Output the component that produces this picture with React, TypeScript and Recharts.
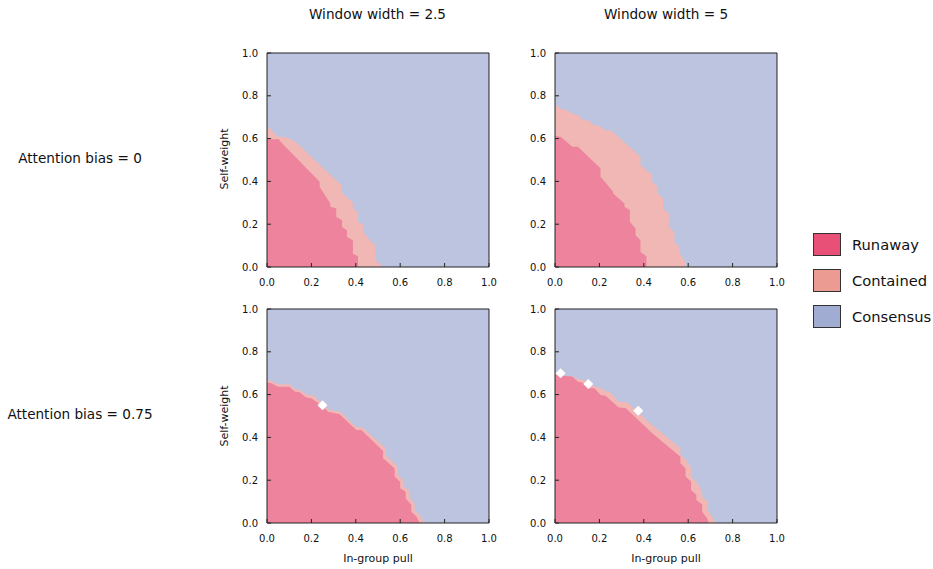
import React from "react";
import { ComposedChart, Area, Scatter, XAxis, YAxis, CartesianGrid } from "recharts";

// regime boundaries: [in-group pull, self-weight]
const runawayTopLeft = [
  [0, 0.597], [0.054, 0.597], [0.06, 0.586], [0.237, 0.398], [0.237, 0.375], [0.285, 0.297],
  [0.285, 0.281], [0.312, 0.273], [0.312, 0.234], [0.338, 0.219], [0.338, 0.1875], [0.36, 0.172],
  [0.36, 0.14], [0.387, 0.125], [0.387, 0.0625], [0.41, 0.05], [0.41, 0],
];
const containedTopLeft = [
  [0, 0.659], [0.05, 0.609], [0.075, 0.609], [0.125, 0.589], [0.338, 0.38], [0.338, 0.347],
  [0.387, 0.3], [0.387, 0.273], [0.41, 0.258], [0.41, 0.211], [0.435, 0.195], [0.435, 0.164],
  [0.462, 0.125], [0.488, 0.102], [0.488, 0.031], [0.515, 0.008], [0.515, 0],
];
const runawayTopRight = [
  [0, 0.6125], [0.025, 0.609], [0.078, 0.5625], [0.103, 0.5625], [0.205, 0.461], [0.205, 0.422],
  [0.262, 0.352], [0.262, 0.344], [0.313, 0.297], [0.313, 0.281], [0.337, 0.266], [0.337, 0.211],
  [0.363, 0.18], [0.363, 0.148], [0.385, 0.125], [0.385, 0.07], [0.412, 0.05], [0.412, 0],
];
const containedTopRight = [
  [0, 0.7625], [0.025, 0.739], [0.051, 0.734], [0.078, 0.716], [0.103, 0.711], [0.127, 0.6875],
  [0.153, 0.684], [0.175, 0.664], [0.202, 0.659], [0.228, 0.6375], [0.253, 0.6375], [0.385, 0.516],
  [0.385, 0.477], [0.438, 0.43], [0.438, 0.398], [0.463, 0.375], [0.463, 0.344], [0.487, 0.32],
  [0.487, 0.273], [0.513, 0.25], [0.513, 0.1875], [0.538, 0.164], [0.538, 0.117], [0.562, 0.094],
  [0.562, 0.0625], [0.588, 0.023], [0.588, 0],
];
const runawayBottomLeft = [
  [0, 0.657], [0.02, 0.653], [0.05, 0.637], [0.1, 0.637], [0.125, 0.614], [0.147, 0.611],
  [0.177, 0.586], [0.2, 0.583], [0.252, 0.544], [0.275, 0.52], [0.327, 0.508], [0.402, 0.435],
  [0.425, 0.435], [0.523, 0.336], [0.523, 0.302], [0.575, 0.255], [0.575, 0.216], [0.6, 0.193],
  [0.6, 0.162], [0.625, 0.146], [0.625, 0.115], [0.65, 0.084], [0.65, 0.053], [0.673, 0.03], [0.688, 0],
];
const containedBottomLeft = [
  [0, 0.668], [0.02, 0.664], [0.05, 0.648], [0.102, 0.648], [0.125, 0.626], [0.15, 0.621],
  [0.177, 0.601], [0.204, 0.598], [0.26, 0.551], [0.278, 0.528], [0.33, 0.52], [0.4, 0.45],
  [0.432, 0.445], [0.535, 0.349], [0.535, 0.318], [0.59, 0.263], [0.59, 0.224], [0.615, 0.2],
  [0.615, 0.17], [0.64, 0.154], [0.64, 0.123], [0.665, 0.092], [0.665, 0.06], [0.688, 0.037], [0.71, 0],
];
const runawayBottomRight = [
  [0, 0.695], [0.025, 0.688], [0.078, 0.684], [0.103, 0.66], [0.123, 0.657], [0.153, 0.63],
  [0.178, 0.63], [0.205, 0.598], [0.228, 0.595], [0.265, 0.56], [0.288, 0.54], [0.318, 0.537],
  [0.438, 0.419], [0.565, 0.31], [0.565, 0.279], [0.588, 0.255], [0.588, 0.217], [0.613, 0.193],
  [0.613, 0.154], [0.637, 0.131], [0.637, 0.107], [0.663, 0.087], [0.663, 0.053], [0.685, 0.022], [0.693, 0],
];
const containedBottomRight = [
  [0, 0.704], [0.025, 0.7], [0.052, 0.685], [0.078, 0.685], [0.103, 0.673], [0.13, 0.667],
  [0.153, 0.657], [0.178, 0.637], [0.205, 0.632], [0.228, 0.617], [0.25, 0.61], [0.288, 0.567],
  [0.325, 0.564], [0.438, 0.458], [0.565, 0.349], [0.565, 0.318], [0.588, 0.299], [0.613, 0.255],
  [0.613, 0.216], [0.637, 0.193], [0.663, 0.146], [0.663, 0.123], [0.688, 0.1], [0.688, 0.06],
  [0.712, 0.025], [0.723, 0],
];
// white diamond markers
const marksBottomLeft = [[0.25, 0.55]];
const marksBottomRight = [[0.025, 0.7], [0.15, 0.65], [0.375, 0.525]];

const TICKS = [0, 0.2, 0.4, 0.6, 0.8, 1];
const COL_TITLES = ["Window width = 2.5", "Window width = 5"];
const ROW_TITLES = ["Attention bias = 0", "Attention bias = 0.75"];
const LEGEND = [
  { name: "Runaway", color: "#e85077" },
  { name: "Contained", color: "#ec9b93" },
  { name: "Consensus", color: "#a0acd2" },
];

const FONT = "'DejaVu Sans', sans-serif";
const FILL = { runaway: "#ee839e", contained: "#f0b7b5", consensus: "#bcc4e0" };

const toPts = (a: number[][]) => a.map(([x, y]) => ({ x, y }));
const fmt = (v: number) => v.toFixed(1);

const Diamond = (props: any) => {
  const { cx, cy } = props;
  const r = 5;
  return (
    <polygon
      points={`${cx},${cy - r} ${cx + r},${cy} ${cx},${cy + r} ${cx - r},${cy}`}
      fill="#ffffff"
    />
  );
};

const tickStyle = { fill: "#111", fontSize: 10, fontFamily: FONT };

type PanelProps = {
  left: number;
  top: number;
  run: number[][];
  cont: number[][];
  marks?: number[][];
};

const Panel = ({ left, top, run, cont, marks }: PanelProps) => (
  <div style={{ position: "absolute", left: left - 40, top: top - 5 }}>
    <ComposedChart width={282} height={249} margin={{ top: 0, right: 0, bottom: 0, left: 0 }}>
      <CartesianGrid horizontal={false} vertical={false} fill={FILL.consensus} />
      <XAxis
        dataKey="x"
        type="number"
        domain={[0, 1]}
        ticks={TICKS}
        tickFormatter={fmt}
        height={30}
        tickSize={-4}
        tickMargin={16}
        stroke="#222"
        tick={tickStyle}
        allowDataOverflow
      />
      <XAxis
        xAxisId="t"
        orientation="top"
        type="number"
        domain={[0, 1]}
        ticks={TICKS}
        height={5}
        tickSize={-4}
        tick={false}
        stroke="#222"
      />
      <YAxis
        type="number"
        domain={[0, 1]}
        ticks={TICKS}
        tickFormatter={fmt}
        width={40}
        tickSize={-4}
        tickMargin={13}
        stroke="#222"
        tick={tickStyle}
        allowDataOverflow
      />
      <YAxis
        yAxisId="r"
        orientation="right"
        type="number"
        domain={[0, 1]}
        ticks={TICKS}
        width={20}
        tickSize={-4}
        tick={false}
        stroke="#222"
      />
      <Area
        data={toPts(cont)}
        dataKey="y"
        type="linear"
        stroke="none"
        fill={FILL.contained}
        fillOpacity={1}
        isAnimationActive={false}
      />
      <Area
        data={toPts(run)}
        dataKey="y"
        type="linear"
        stroke="none"
        fill={FILL.runaway}
        fillOpacity={1}
        isAnimationActive={false}
      />
      {marks && (
        <Scatter data={toPts(marks)} dataKey="y" shape={Diamond} isAnimationActive={false} />
      )}
    </ComposedChart>
  </div>
);

const Label = ({ x, y, size, rotate, children }: any) => (
  <div
    style={{
      position: "absolute",
      left: x,
      top: y,
      transform: `translate(-50%, -50%)${rotate ? ` rotate(${rotate}deg)` : ""}`,
      whiteSpace: "nowrap",
      fontFamily: FONT,
      fontSize: size,
      color: "#111",
    }}
  >
    {children}
  </div>
);

export default function App() {
  return (
    <div
      style={{
        position: "absolute",
        left: 0,
        top: 0,
        width: 933,
        height: 569,
        background: "#fff",
        overflow: "hidden",
      }}
    >
      <Label x={377.5} y={14} size={13.6}>{COL_TITLES[0]}</Label>
      <Label x={666} y={14} size={13.6}>{COL_TITLES[1]}</Label>
      <Label x={80} y={158} size={13.6}>{ROW_TITLES[0]}</Label>
      <Label x={80} y={414} size={13.6}>{ROW_TITLES[1]}</Label>

      <Label x={224} y={159} size={11} rotate={-90}>Self-weight</Label>
      <Label x={224} y={416} size={11} rotate={-90}>Self-weight</Label>
      <Label x={378} y={558} size={11}>In-group pull</Label>
      <Label x={666} y={558} size={11}>In-group pull</Label>

      <Panel left={267} top={53} run={runawayTopLeft} cont={containedTopLeft} />
      <Panel left={555} top={53} run={runawayTopRight} cont={containedTopRight} />
      <Panel left={267} top={309} run={runawayBottomLeft} cont={containedBottomLeft} marks={marksBottomLeft} />
      <Panel left={555} top={309} run={runawayBottomRight} cont={containedBottomRight} marks={marksBottomRight} />

      {LEGEND.map((item, i) => (
        <div key={item.name}>
          <div
            style={{
              position: "absolute",
              left: 813,
              top: 233 + i * 36,
              width: 26,
              height: 21,
              background: item.color,
              border: "1px solid #333",
            }}
          />
          <div
            style={{
              position: "absolute",
              left: 852,
              top: 244 + i * 36,
              transform: "translateY(-50%)",
              fontFamily: FONT,
              fontSize: 14.7,
              color: "#111",
              whiteSpace: "nowrap",
            }}
          >
            {item.name}
          </div>
        </div>
      ))}
    </div>
  );
}
